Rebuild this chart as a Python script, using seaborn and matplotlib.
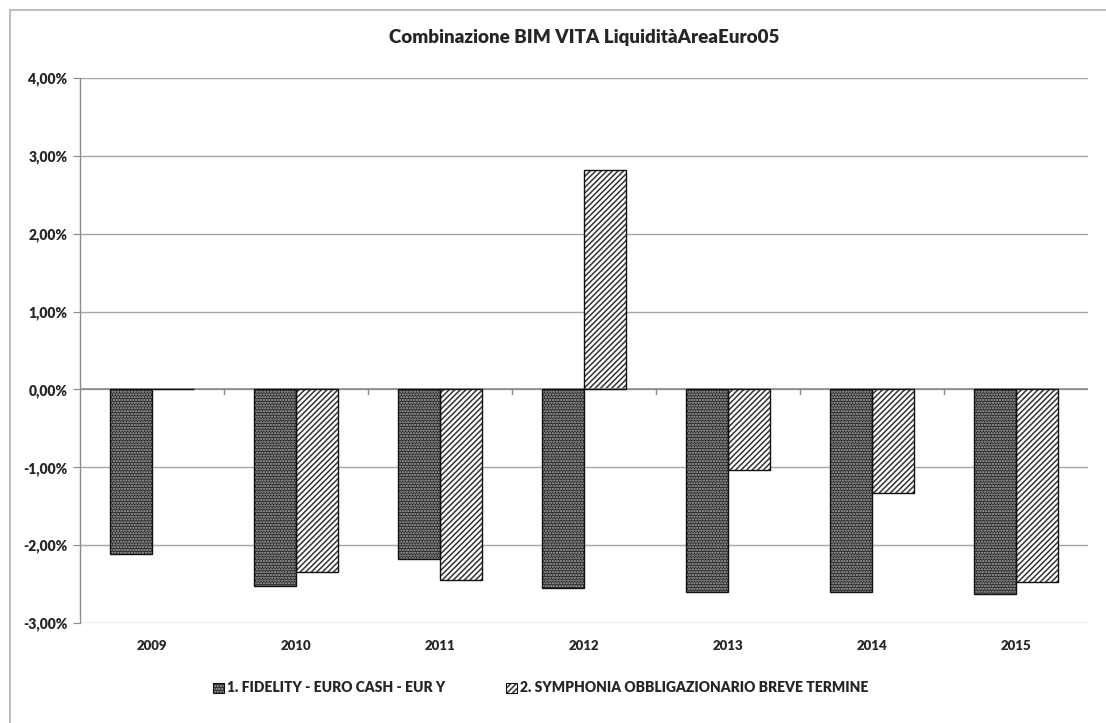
import numpy as np
import pandas as pd
import matplotlib
matplotlib.use("Agg")
import matplotlib.pyplot as plt
import seaborn as sns
from matplotlib.lines import Line2D
from matplotlib.patches import Patch

# Data (annual returns, %)
years = ["2009", "2010", "2011", "2012", "2013", "2014", "2015"]
fidelity = [-2.11, -2.52, -2.18, -2.55, -2.60, -2.60, -2.63]
symphonia = [0.01, -2.35, -2.45, 2.82, -1.03, -1.33, -2.47]
series_names = ["1. FIDELITY - EURO CASH - EUR Y",
                "2. SYMPHONIA OBBLIGAZIONARIO BREVE TERMINE"]
y_ticks = [-3, -2, -1, 0, 1, 2, 3, 4]

df = pd.DataFrame({
    "year": years * 2,
    "value": fidelity + symphonia,
    "series": [series_names[0]] * len(years) + [series_names[1]] * len(years),
})

sns.set_style("white")
plt.rcParams["font.family"] = ["Lato", "DejaVu Sans"]
plt.rcParams["font.weight"] = "bold"
plt.rcParams["hatch.linewidth"] = 1.1

fig = plt.figure(figsize=(11.06, 7.23), dpi=100)
ax = fig.add_axes([80 / 1106, 1 - 623 / 723, 1008 / 1106, 545 / 723])

sns.barplot(data=df, x="year", y="value", hue="series", order=years,
            hue_order=series_names, width=0.59, ax=ax, legend=False,
            palette=["#2a2a2a", "white"], saturation=1)

# style the bars: dotted dark fill and diagonal stripes
styles = [dict(face="#262626", hatch="......", hcol="#b0b0b0"),
          dict(face="white", hatch="//////", hcol="#333333")]
bars = [p for p in ax.patches]
n = len(years)
for i, p in enumerate(bars[:2 * n]):
    st = styles[i // n]
    p.set_facecolor(st["face"])
    p.set_hatch(st["hatch"])
    p.set_edgecolor(st["hcol"])
    p.set_linewidth(0)
    # outline on top
    ax.add_patch(plt.Rectangle(p.get_xy(), p.get_width(), p.get_height(),
                               fill=False, edgecolor="#111111", linewidth=1.0, zorder=3))

ax.set_xlim(-0.5, len(years) - 0.5)
ax.set_ylim(-3, 4)
ax.set_yticks(y_ticks)
ax.set_yticklabels([f"{v:.2f}%".replace(".", ",") for v in y_ticks])
ax.yaxis.grid(True, color="#a6a6a6", linewidth=1.0)
ax.set_axisbelow(True)
ax.set_xlabel("")
ax.set_ylabel("")

for s in ["top", "right", "bottom"]:
    ax.spines[s].set_visible(False)
ax.spines["left"].set_color("#8c8c8c")
ax.spines["left"].set_linewidth(1.0)
ax.tick_params(axis="y", length=5, color="#8c8c8c", labelsize=10, pad=4, direction="out", left=True)
ax.tick_params(axis="x", length=0, labelsize=9.5, pad=12)
for lab in ax.get_xticklabels() + ax.get_yticklabels():
    lab.set_fontweight("heavy")

# zero axis line with category separators
ax.axhline(0, color="#8c8c8c", linewidth=1.2, zorder=2)
for b in np.arange(0.5, len(years) - 0.5, 1.0):
    ax.plot([b, b], [0, -0.06], color="#8c8c8c", linewidth=1.0, zorder=2)

fig.text(0.5 * (80 + 1088) / 1106, 1 - 37 / 723, "Combinazione BIM VITA LiquiditàAreaEuro05",
         ha="center", va="center", fontsize=13.5, fontweight="heavy")

outline = Patch(facecolor="none", edgecolor="#111111", linewidth=0.8)
handles = [(Patch(facecolor="#262626", edgecolor="#b0b0b0", hatch="......", linewidth=0), outline),
           (Patch(facecolor="white", edgecolor="#333333", hatch="//////", linewidth=0), outline)]
fig.legend(handles, series_names, loc="center", bbox_to_anchor=(541 / 1106, 1 - 688 / 723),
           ncol=2, frameon=False, handlelength=0.75, handleheight=0.75,
           handletextpad=0.25, columnspacing=4.4, prop={"weight": "heavy", "size": 10})

# outer chart frame (left and top edges visible)
fig.add_artist(Line2D([10 / 1106, 10 / 1106], [0, 1 - 10 / 723], color="#bfbfbf", linewidth=1.5))
fig.add_artist(Line2D([10 / 1106, 1], [1 - 10 / 723, 1 - 10 / 723], color="#bfbfbf", linewidth=1.5))

fig.savefig("out.png", dpi=100)
